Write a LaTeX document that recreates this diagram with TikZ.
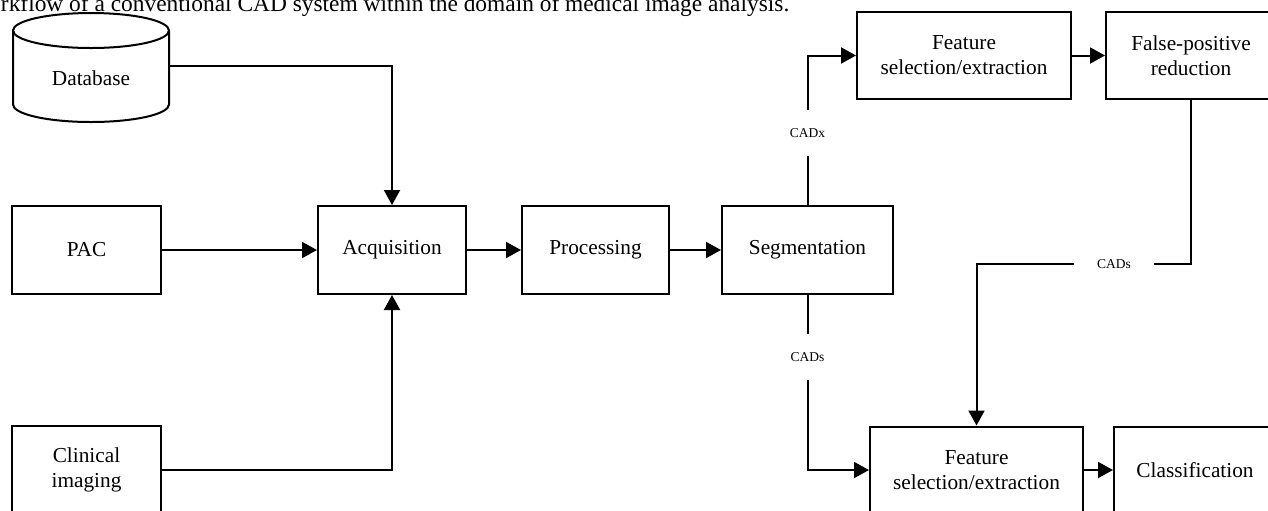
\documentclass[tikz,border=0pt]{standalone}
\usepackage{fontspec}
\setmainfont{Liberation Serif}
\usetikzlibrary{arrows.meta}
\begin{document}
\begin{tikzpicture}[x=0.5pt,y=-0.5pt,
  line width=1pt,
  box/.style={draw, line width=1pt, align=center, inner sep=0pt,
    font=\fontsize{10.65}{12.4}\selectfont},
  lbl/.style={inner sep=0pt, minimum width=39pt, minimum height=22pt,
    font=\fontsize{6.75}{8}\selectfont},
  arr/.style={-{Triangle[length=7.5pt,width=8pt]}}]
\path[use as bounding box] (0,0) rectangle (1268,510);
\clip (0,0) rectangle (1268,510);
% caption
\node[anchor=base west, inner sep=0pt, font=\fontsize{11.7}{14}\selectfont] (cap) at (0,11) {rkflow of a conventional CAD system within the domain of medical image analysis.};
% database cylinder
\draw[line width=1pt] (13,30.5) -- (13,104.5) arc[start angle=180,end angle=0,x radius=78,y radius=17.5] -- (169,30.5);
\draw[line width=1pt] (91,30.5) ellipse[x radius=78,y radius=17.5];
\node[inner sep=0pt, minimum width=78pt, minimum height=30pt, font=\fontsize{10.65}{12.4}\selectfont] (db) at (91,78) {Database};
% boxes
\node[box, minimum width=74.5pt, minimum height=44pt] (pac) at (86.5,250) {PAC};
\node[box, minimum width=74pt, minimum height=44pt] (acq) at (392,250) {Acquisition};
\node[box, minimum width=73.5pt, minimum height=44pt] (proc) at (595.5,250) {Processing};
\node[box, minimum width=85.5pt, minimum height=44pt] (seg) at (807.5,250) {Segmentation};
\node[box, minimum width=74.5pt, minimum height=44pt] (clin) at (86.5,470) {Clinical\\imaging};
\node[box, minimum width=107pt, minimum height=43.5pt] (feat1) at (964,55.5) {Feature\\selection/extraction};
\node[box, minimum width=85pt, minimum height=43.5pt] (fp) at (1191,55.5) {False-positive\\reduction};
\node[box, minimum width=106.5pt, minimum height=43.5pt] (feat2) at (976.5,470) {Feature\\selection/extraction};
\node[box, minimum width=81pt, minimum height=43.5pt] (cls) at (1195,470) {Classification};
% labels
\node[lbl] (cadx) at (807.5,133) {CADx};
\node[lbl] (cads1) at (807.5,357) {CADs};
\node[lbl] (cads2) at (1114,264) {CADs};
% connectors
\draw[arr] (db.east |- 0,66) -| (acq.north);
\draw[arr] (pac) -- (acq);
\draw[arr] (clin.east) -| (acq.south);
\draw[arr] (acq) -- (proc);
\draw[arr] (proc) -- (seg);
\draw (seg.north) -- (cadx.south);
\draw[arr] (cadx.north) |- (feat1.west);
\draw (seg.south) -- (cads1.north);
\draw[arr] (cads1.south) |- (feat2.west);
\draw[arr] (feat1) -- (fp);
\draw (fp.south) |- (cads2.east);
\draw[arr] (cads2.west) -| (feat2.north);
\draw[arr] (feat2) -- (cls);
\end{tikzpicture}
\end{document}
